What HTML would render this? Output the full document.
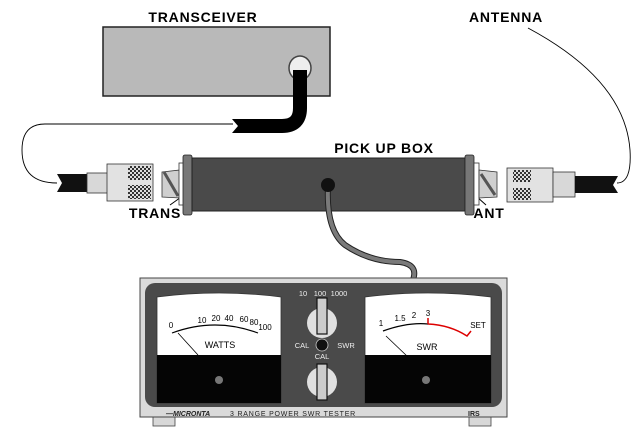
<!DOCTYPE html>
<html><head><meta charset="utf-8"><style>
html,body{margin:0;padding:0;background:#fff}
svg{display:block}
text{font-family:"Liberation Sans",sans-serif}
</style></head><body>
<svg width="643" height="437" viewBox="0 0 643 437" xmlns="http://www.w3.org/2000/svg">
<defs>
<pattern id="kn" width="4" height="4" patternUnits="userSpaceOnUse">
<rect width="4" height="4" fill="#ddd"/><rect width="2" height="2" fill="#333"/><rect x="2" y="2" width="2" height="2" fill="#333"/>
</pattern>
</defs>
<!-- labels -->
<g font-weight="bold" font-size="14" fill="#000" text-anchor="middle" letter-spacing="0.8">
<text x="203" y="22">TRANSCEIVER</text>
<text x="506" y="22">ANTENNA</text>
<text x="384" y="153">PICK UP BOX</text>
<text x="155" y="218">TRANS</text>
<text x="489" y="218">ANT</text>
</g>
<!-- transceiver -->
<rect x="103" y="27" width="227" height="69" fill="#b9b9b9" stroke="#222" stroke-width="1.5"/>
<ellipse cx="300" cy="68" rx="11" ry="12" fill="#eee" stroke="#444" stroke-width="1.5"/>
<path d="M300 70 L300 108 Q300 126 282 126 L240 126" fill="none" stroke="#000" stroke-width="14"/>
<path d="M242 119 L232 119 L238 126 L232 133 L246 133Z" fill="#000"/>
<!-- thin wires -->
<path d="M233 124 L45 124 Q22 124 22 150 Q22 183 57 183" fill="none" stroke="#000" stroke-width="0.9"/>
<path d="M617 183 Q632 183 630 150 Q625 80 528 28" fill="none" stroke="#000" stroke-width="0.9"/>
<!-- pointer arrows -->
<line x1="170" y1="205" x2="184" y2="195" stroke="#000" stroke-width="1"/>
<path d="M186 193 l-7 2 l3 4z" fill="#000"/>
<line x1="486" y1="205" x2="476" y2="196" stroke="#000" stroke-width="1"/>
<path d="M474 194 l2 7 l4 -4z" fill="#000"/>
<!-- left coax -->
<path d="M57 174 L87 174 L87 192 L57 192 L62 183Z" fill="#111"/>
<rect x="87" y="173" width="21" height="20" fill="#d8d8d8" stroke="#333" stroke-width="0.8"/>
<rect x="107" y="164" width="46" height="37" fill="#e2e2e2" stroke="#333" stroke-width="0.8"/>
<rect x="128" y="166" width="23" height="14" fill="url(#kn)"/>
<rect x="128" y="185" width="23" height="14" fill="url(#kn)"/>
<path d="M162 172 L180 170 L180 198 L162 197Z" fill="#cfcfcf" stroke="#333" stroke-width="0.8"/>
<path d="M164 172 L178 196" stroke="#555" stroke-width="3"/>
<rect x="179" y="163" width="5" height="42" fill="#fff" stroke="#333" stroke-width="0.8"/>
<rect x="183" y="155" width="9" height="60" rx="2" fill="#777" stroke="#222" stroke-width="0.8"/>
<!-- pickup box -->
<rect x="192" y="158" width="273" height="53" fill="#4a4a4a" stroke="#222" stroke-width="1"/>
<rect x="465" y="155" width="9" height="60" rx="2" fill="#777" stroke="#222" stroke-width="0.8"/>
<rect x="474" y="163" width="5" height="42" fill="#fff" stroke="#333" stroke-width="0.8"/>
<path d="M479 170 L497 172 L497 197 L479 198Z" fill="#cfcfcf" stroke="#333" stroke-width="0.8"/>
<path d="M481 174 L495 195" stroke="#555" stroke-width="3"/>
<!-- right coax -->
<rect x="507" y="168" width="46" height="34" fill="#e2e2e2" stroke="#333" stroke-width="0.8"/>
<rect x="513" y="170" width="18" height="12" fill="url(#kn)"/>
<rect x="513" y="188" width="18" height="12" fill="url(#kn)"/>
<rect x="553" y="172" width="22" height="25" fill="#d8d8d8" stroke="#333" stroke-width="0.8"/>
<path d="M575 176 L618 176 L613 185 L618 193 L575 193Z" fill="#111"/>
<!-- gray cable -->
<path d="M328 187 Q326 230 345 245 Q370 262 400 262 Q420 265 412 282" fill="none" stroke="#222" stroke-width="6"/>
<path d="M328 187 Q326 230 345 245 Q370 262 400 262 Q420 265 412 282" fill="none" stroke="#7a7a7a" stroke-width="4"/>
<circle cx="328" cy="185" r="7" fill="#111"/>
<!-- meter -->
<rect x="153" y="415" width="22" height="11" fill="#d8d8d8" stroke="#444" stroke-width="0.8"/>
<rect x="469" y="415" width="22" height="11" fill="#d8d8d8" stroke="#444" stroke-width="0.8"/>
<rect x="140" y="278" width="367" height="139" fill="#dadada" stroke="#444" stroke-width="1"/>
<rect x="145" y="283" width="357" height="124" rx="10" fill="#4a4a4a"/>
<!-- left meter -->
<path d="M157 297 Q219 289 281 297 L281 403 L157 403Z" fill="#fff" stroke="#333" stroke-width="0.8"/>
<rect x="157" y="355" width="124" height="48" fill="#050505"/>
<path d="M172 333 Q215 317 258 333" fill="none" stroke="#000" stroke-width="1.2"/>
<line x1="178" y1="333" x2="198" y2="355" stroke="#000" stroke-width="0.8"/>
<g font-size="8" fill="#000" text-anchor="middle">
<text x="171" y="328">0</text><text x="202" y="323">10</text><text x="216" y="321">20</text><text x="229" y="321">40</text><text x="244" y="322">60</text><text x="254" y="325">80</text><text x="265" y="330">100</text>
<text x="220" y="348" font-size="9">WATTS</text>
</g>
<circle cx="219" cy="380" r="4" fill="#777"/>
<!-- right meter -->
<path d="M365 297 Q428 289 491 297 L491 403 L365 403Z" fill="#fff" stroke="#333" stroke-width="0.8"/>
<rect x="365" y="355" width="126" height="48" fill="#050505"/>
<path d="M383 331 Q408 322 428 324" fill="none" stroke="#000" stroke-width="1.2"/>
<path d="M428 324 Q450 325 467 336 L471 331 M428 324 L428 318" fill="none" stroke="#d00" stroke-width="1.5"/>
<line x1="386" y1="336" x2="408" y2="357" stroke="#000" stroke-width="0.8"/>
<g font-size="8" fill="#000" text-anchor="middle">
<text x="381" y="326">1</text><text x="400" y="321">1.5</text><text x="414" y="318">2</text><text x="428" y="316">3</text><text x="478" y="328">SET</text>
<text x="427" y="350" font-size="9">SWR</text>
</g>
<circle cx="426" cy="380" r="4" fill="#777"/>
<!-- center controls -->
<g font-size="7.5" fill="#eee" text-anchor="middle">
<text x="303" y="296">10</text><text x="320" y="296">100</text><text x="339" y="296">1000</text>
<text x="302" y="348">CAL</text><text x="346" y="348">SWR</text><text x="322" y="359">CAL</text>
</g>
<circle cx="322" cy="323" r="15" fill="#e0e0e0"/>
<rect x="317" y="298" width="10" height="36" fill="#ccc" stroke="#111" stroke-width="1.2"/>
<circle cx="322" cy="345" r="6" fill="#111" stroke="#ccc" stroke-width="0.8"/>
<circle cx="322" cy="382" r="15" fill="#e0e0e0"/>
<rect x="317" y="364" width="10" height="36" fill="#ccc" stroke="#111" stroke-width="1.2"/>
<g font-size="7" fill="#222">
<text x="166" y="416" font-style="italic" font-weight="bold">—MICRONTA</text>
<text x="230" y="416" letter-spacing="0.8">3 RANGE  POWER  SWR  TESTER</text>
<text x="468" y="416" font-weight="bold">IRS</text>
</g>
</svg>
</body></html>
